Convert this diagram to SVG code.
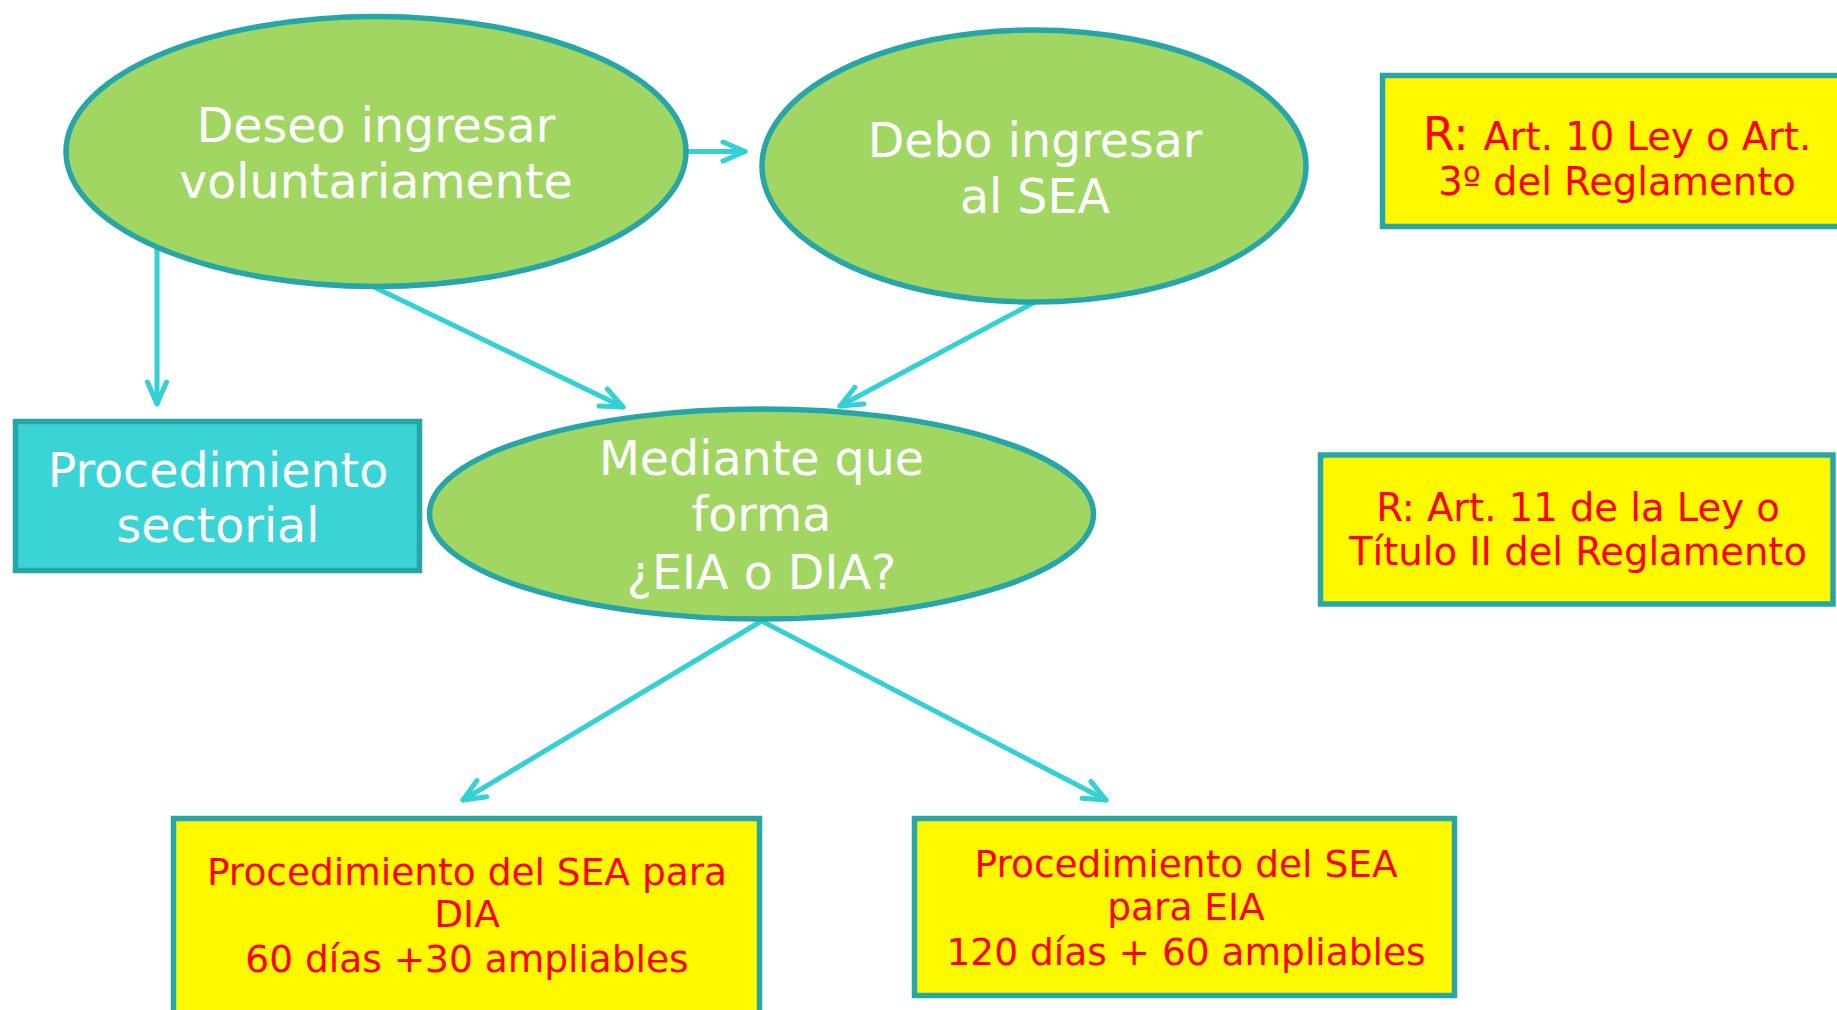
<svg xmlns="http://www.w3.org/2000/svg" width="1837" height="1010" viewBox="0 0 1837 1010">
<style>
.ell{fill:#a2d663;stroke:#27a6a8;stroke-width:5.5}
.cyan{fill:#3ad4d7;stroke:#27a6a8;stroke-width:5.5}
.yel{fill:#fff900;stroke:#27a6a8;stroke-width:5.5}
.wt{font-family:"DejaVu Sans","Verdana",sans-serif;font-size:47.5px;fill:#ffffff;text-anchor:middle}
.rt{font-family:"DejaVu Sans","Verdana",sans-serif;font-size:37.5px;fill:#ff0000;text-anchor:middle}
.rs{font-size:38.5px}
.con{stroke:#33d0d6;stroke-width:5;fill:none;stroke-linecap:round;marker-end:url(#ah)}
</style>
<defs>
<marker id="ah" markerUnits="userSpaceOnUse" viewBox="-30 -15 40 30" refX="0" refY="0" markerWidth="40" markerHeight="30" orient="auto" overflow="visible">
<path d="M -22 -9.5 L 0 0 L -22 9.5" fill="none" stroke="#33d0d6" stroke-width="5" stroke-linecap="round" stroke-linejoin="round"/>
</marker>
</defs>
<rect width="1837" height="1010" fill="#ffffff"/>
<g id="connectors">
<line class="con" x1="689" y1="151.5" x2="745" y2="151.5"/>
<line class="con" x1="157" y1="248" x2="157" y2="404"/>
<line class="con" x1="376" y1="288" x2="623" y2="407"/>
<line class="con" x1="1033" y1="303" x2="840" y2="406"/>
<line class="con" x1="761.5" y1="621" x2="463" y2="800"/>
<line class="con" x1="761.5" y1="621" x2="1106" y2="800"/>
</g>
<g id="n_voluntario">
<ellipse class="ell" cx="376" cy="151.5" rx="310" ry="135"/>
<text class="wt" x="376" y="142">Deseo ingresar</text>
<text class="wt" x="376" y="198">voluntariamente</text>
</g>
<g id="n_debo">
<ellipse class="ell" cx="1034" cy="166" rx="272" ry="136"/>
<text class="wt" x="1035" y="157">Debo ingresar</text>
<text class="wt" x="1035" y="213">al SEA</text>
</g>
<g id="n_r1">
<rect class="yel" x="1382.5" y="75.5" width="470" height="151"/>
<text class="rt rs" x="1617" y="150"><tspan font-size="46">R: </tspan>Art. 10 Ley o Art.</text>
<text class="rt rs" x="1617" y="195">3º del Reglamento</text>
</g>
<g id="n_sectorial">
<rect class="cyan" x="15.5" y="421.5" width="404" height="149"/>
<text class="wt" x="218" y="487">Procedimiento</text>
<text class="wt" x="218" y="542">sectorial</text>
</g>
<g id="n_forma">
<ellipse class="ell" cx="761.5" cy="514" rx="332" ry="105"/>
<text class="wt" x="761.5" y="475">Mediante que</text>
<text class="wt" x="761.5" y="531">forma</text>
<text class="wt" x="761.5" y="589">¿EIA o DIA?</text>
</g>
<g id="n_r2">
<rect class="yel" x="1320.5" y="455" width="512.5" height="149"/>
<text class="rt rs" x="1578" y="521">R: Art. 11 de la Ley o</text>
<text class="rt rs" x="1578" y="565">Título II del Reglamento</text>
</g>
<g id="n_dia">
<rect class="yel" x="173.5" y="818.5" width="586" height="220"/>
<text class="rt" x="467" y="885">Procedimiento del SEA para</text>
<text class="rt" x="467" y="927">DIA</text>
<text class="rt" x="467" y="972">60 días +30 ampliables</text>
</g>
<g id="n_eia">
<rect class="yel" x="914.5" y="818.5" width="540" height="177"/>
<text class="rt" x="1186" y="877">Procedimiento del SEA</text>
<text class="rt" x="1186" y="920">para EIA</text>
<text class="rt" x="1186" y="965">120 días + 60 ampliables</text>
</g>
</svg>
